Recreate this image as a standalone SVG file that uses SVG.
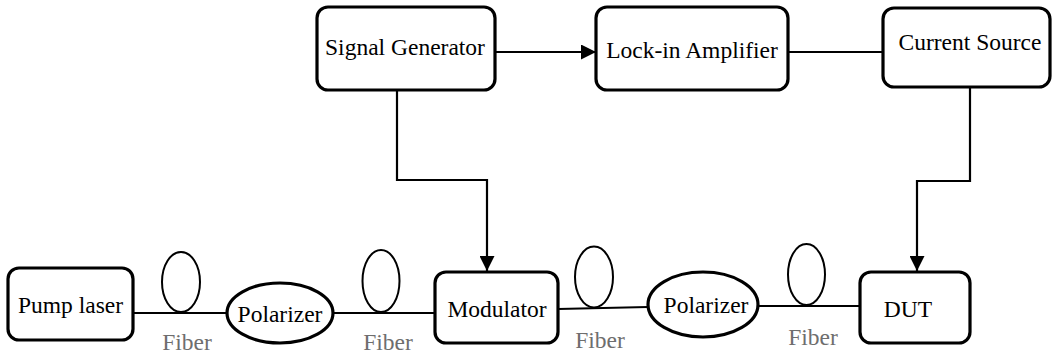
<svg xmlns="http://www.w3.org/2000/svg" width="1053" height="354" viewBox="0 0 1053 354">
<style>
.box{fill:#fff;stroke:#000;stroke-width:3.2}
.pol{fill:#fff;stroke:#000;stroke-width:3.2}
.loop{fill:none;stroke:#000;stroke-width:2}
.ln{fill:none;stroke:#000;stroke-width:2.2}
text{font-family:'Liberation Serif',serif;font-size:23.5px;fill:#000;text-anchor:middle}
.fib{fill:#6e6e6e}
</style>
<defs>
<marker id="ah" markerWidth="15" markerHeight="15" viewBox="0 0 15 15" refX="15" refY="7.5" orient="auto" markerUnits="userSpaceOnUse">
<path d="M0,0 L15,7.5 L0,15 Z" fill="#000"/>
</marker>
</defs>
<g id="connectors">
<line class="ln" x1="495" y1="52" x2="596" y2="52" marker-end="url(#ah)"/>
<line class="ln" x1="788" y1="52" x2="883" y2="52"/>
<polyline class="ln" points="397,90 397,180 487,180 487,271" marker-end="url(#ah)"/>
<polyline class="ln" points="970,88 970,181 917,181 917,271" marker-end="url(#ah)"/>
<line class="ln" x1="133" y1="313" x2="227" y2="313"/>
<line class="ln" x1="333" y1="313" x2="435" y2="313"/>
<line class="ln" x1="558" y1="309" x2="648" y2="307"/>
<line class="ln" x1="758" y1="306" x2="860" y2="306"/>
<ellipse class="loop" cx="181" cy="282" rx="19" ry="30"/>
<ellipse class="loop" cx="381" cy="281" rx="18.5" ry="31"/>
<ellipse class="loop" cx="594" cy="277" rx="19" ry="30.5"/>
<ellipse class="loop" cx="806.5" cy="274.5" rx="18.5" ry="30.5"/>
<text class="fib" x="187" y="350">Fiber</text>
<text class="fib" x="388" y="350">Fiber</text>
<text class="fib" x="600" y="348">Fiber</text>
<text class="fib" x="813" y="345">Fiber</text>
</g>
<g id="signal-generator">
<rect class="box" x="317" y="7" width="178" height="83" rx="11"/>
<text x="405" y="55">Signal Generator</text>
</g>
<g id="lock-in-amplifier">
<rect class="box" x="596" y="7" width="192" height="83" rx="11"/>
<text x="692" y="58">Lock-in Amplifier</text>
</g>
<g id="current-source">
<rect class="box" x="883" y="8" width="167" height="79" rx="11"/>
<text x="970" y="50">Current Source</text>
</g>
<g id="pump-laser">
<rect class="box" x="8" y="268" width="125" height="72" rx="11"/>
<text x="70.5" y="313">Pump laser</text>
</g>
<g id="polarizer-1">
<ellipse class="pol" cx="280" cy="313" rx="53" ry="30"/>
<text x="280" y="322">Polarizer</text>
</g>
<g id="modulator">
<rect class="box" x="435" y="272" width="123" height="71" rx="11"/>
<text x="497" y="317">Modulator</text>
</g>
<g id="polarizer-2">
<ellipse class="pol" cx="703" cy="304.5" rx="55" ry="32.5"/>
<text x="706" y="313">Polarizer</text>
</g>
<g id="dut">
<rect class="box" x="860" y="272" width="110" height="71" rx="11"/>
<text x="908" y="317">DUT</text>
</g>
</svg>
